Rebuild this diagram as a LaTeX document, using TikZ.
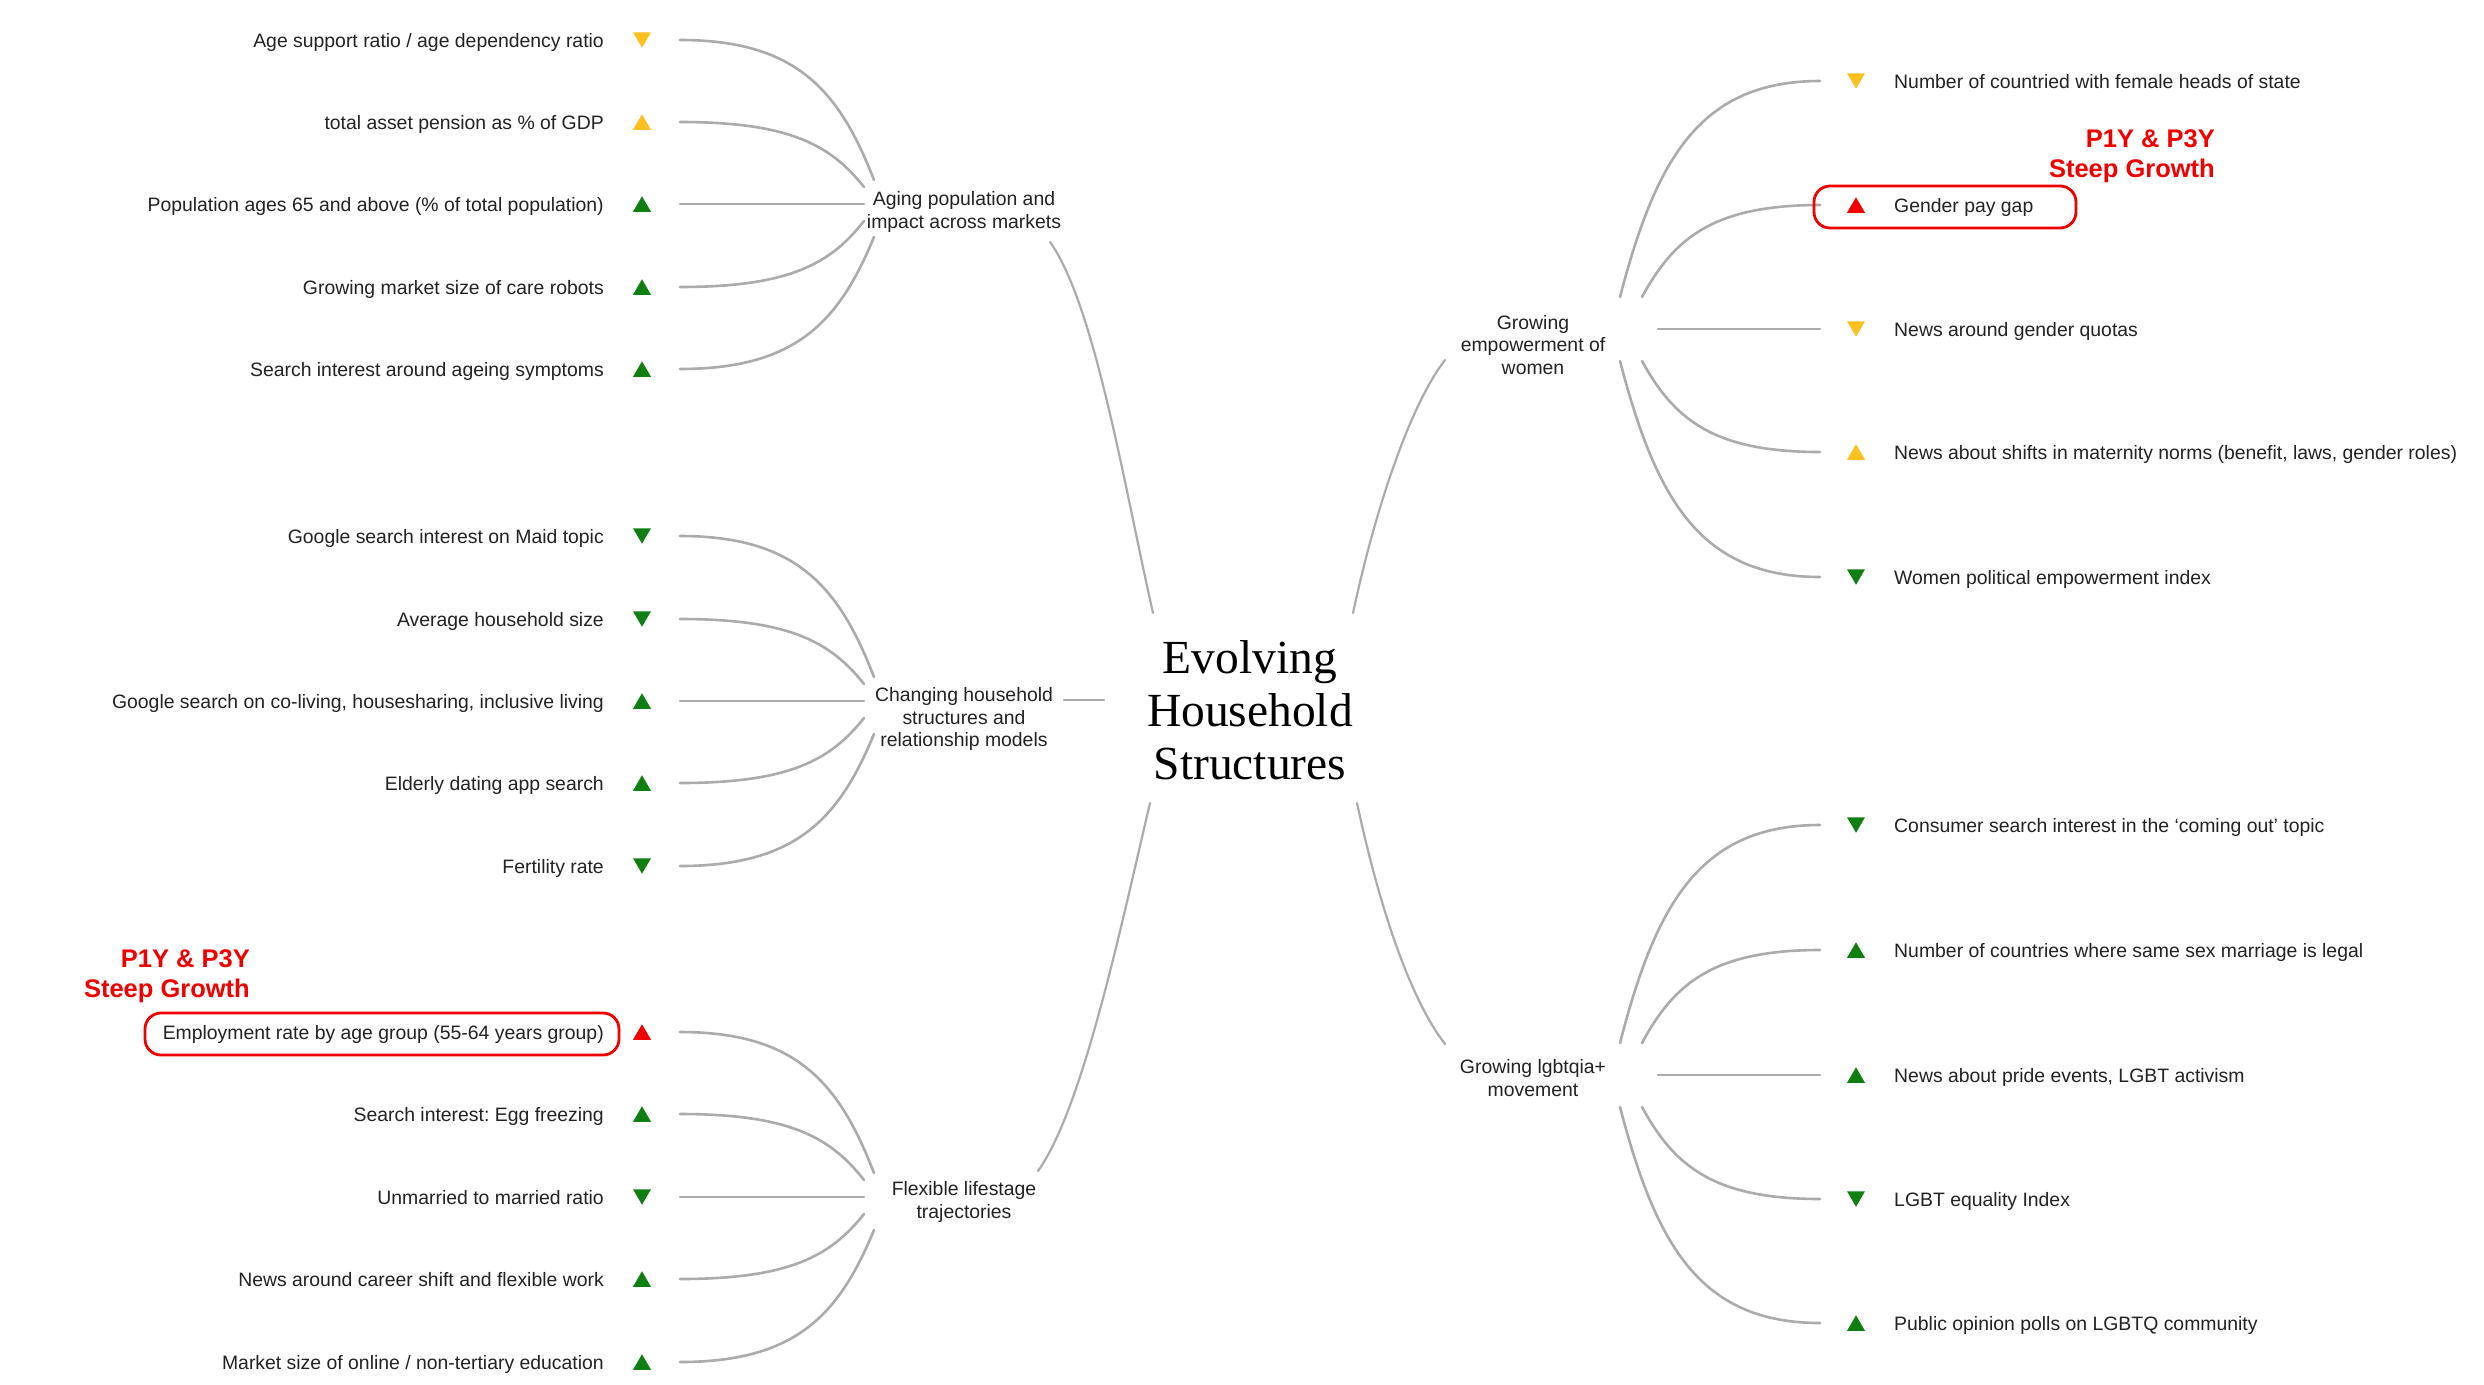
\documentclass[tikz,border=0pt]{standalone}
\usepackage{fontspec}
\setmainfont{Liberation Sans}
\newfontfamily\titlefont{Liberation Serif}
\usetikzlibrary{calc}
\frenchspacing
\definecolor{cyel}{HTML}{FDC01F}
\definecolor{cgrn}{HTML}{0F7F12}
\definecolor{cred}{HTML}{F20000}
\definecolor{cline}{HTML}{ABABAB}
\definecolor{ctext}{HTML}{222222}
\tikzset{
  leaf/.style={font=\fontsize{19.4}{22.5}\selectfont, inner sep=0pt, text=ctext},
  hub/.style={font=\fontsize{19.4}{22.5}\selectfont, align=center, inner sep=0pt, text=ctext},
  titlenode/.style={font=\titlefont\fontsize{47.5}{53}\selectfont, align=center, inner sep=0pt},
  leafline/.style={draw=cline, line width=2.6pt, line cap=round},
  mainline/.style={draw=cline, line width=2.2pt, line cap=round},
  redbox/.style={draw=cred, line width=2.8pt, rounded corners=16pt},
  redlbl/.style={font=\bfseries\fontsize{25.5}{31}\selectfont, text=cred, inner sep=0pt, align=right},
  tup/.pic={\path[pic actions] (-9,7.75) -- (9,7.75) -- (0,-7.75) -- cycle;},
  tdown/.pic={\path[pic actions] (-9,-7.75) -- (9,-7.75) -- (0,7.75) -- cycle;},
}
\newcommand\leftleaf[5]{%
  \node[leaf, anchor=base east] (#1) at (604,#2+7) {#3};
  \pic[fill=#4] at (642,#2) {#5};
  \coordinate (#1e) at (680,#2);
}
\newcommand\rightleaf[5]{%
  \node[leaf, anchor=base west] (#1) at (1894,#2+7) {#3};
  \pic[fill=#4] at (1856,#2) {#5};
  \coordinate (#1e) at (1820,#2);
}
\newcommand\leafcurve[2]{%
  \draw[leafline] let \p1=(#1), \p2=(#2) in (#1) .. controls +({0.6*(\x2-\x1)},0pt) and +({-0.18*(\x2-\x1)},{-0.64*(\y2-\y1)}) .. (#2);
}
\begin{document}
\begin{tikzpicture}[x=1pt, y=-1pt]
\fill[white] (0,0) rectangle (2484,1384);
\useasboundingbox (0,0) rectangle (2484,1384);

% ---------- centre ----------
\node[titlenode] (title) at (1250,710) {Evolving\\Household\\Structures};
\coordinate (t-tl) at (1153,613);
\coordinate (t-tr) at (1353,613);
\coordinate (t-bl) at (1150,803);
\coordinate (t-br) at (1357,803);
\coordinate (t-l)  at (1104,700);

% ---------- hubs ----------
\node[hub] (aging) at (964,212) {Aging population and\\impact across markets};
\node[hub] (chg) at (964,719) {Changing household\\structures and\\relationship models};
\node[hub] (flex) at (964,1202) {Flexible lifestage\\trajectories};
\node[hub] (women) at (1533,345) {Growing\\empowerment of\\women};
\node[hub] (lgbt) at (1533,1078) {Growing lgbtqia+\\movement};

\coordinate (ag-o) at (1050,242);
\coordinate (ch-o) at (1064,700);
\coordinate (fl-o) at (1038,1171);
\coordinate (wo-o) at (1445,360);
\coordinate (lg-o) at (1445,1044);

\draw[mainline] (ag-o) .. controls (1095,305) and (1125,490) .. (t-tl);
\draw[mainline] (ch-o) -- (t-l);
\draw[mainline] (fl-o) .. controls (1083,1108) and (1121,926) .. (t-bl);
\draw[mainline] (wo-o) .. controls (1410,405) and (1375,510) .. (t-tr);
\draw[mainline] (lg-o) .. controls (1410,999) and (1379,906) .. (t-br);

% ---------- left group 1 ----------
\leftleaf{A1}{40}{Age support ratio / age dependency ratio}{cyel}{tdown}
\leftleaf{A2}{122}{total asset pension as \% of GDP}{cyel}{tup}
\leftleaf{A3}{204}{Population ages 65 and above (\% of total population)}{cgrn}{tup}
\leftleaf{A4}{287}{Growing market size of care robots}{cgrn}{tup}
\leftleaf{A5}{369}{Search interest around ageing symptoms}{cgrn}{tup}
\coordinate (a1) at (874,180);
\coordinate (a2) at (864,187);
\coordinate (a3) at (864,204);
\coordinate (a4) at (864,221);
\coordinate (a5) at (874,237);
\leafcurve{A1e}{a1}
\leafcurve{A2e}{a2}
\draw[leafline] (A3e) -- (a3);
\leafcurve{A4e}{a4}
\leafcurve{A5e}{a5}

% ---------- left group 2 ----------
\leftleaf{B1}{536}{Google search interest on Maid topic}{cgrn}{tdown}
\leftleaf{B2}{619}{Average household size}{cgrn}{tdown}
\leftleaf{B3}{701}{Google search on co-living, housesharing, inclusive living}{cgrn}{tup}
\leftleaf{B4}{783}{Elderly dating app search}{cgrn}{tup}
\leftleaf{B5}{866}{Fertility rate}{cgrn}{tdown}
\coordinate (b1) at (874,677);
\coordinate (b2) at (864,684);
\coordinate (b3) at (864,701);
\coordinate (b4) at (864,718);
\coordinate (b5) at (874,734);
\leafcurve{B1e}{b1}
\leafcurve{B2e}{b2}
\draw[leafline] (B3e) -- (b3);
\leafcurve{B4e}{b4}
\leafcurve{B5e}{b5}

% ---------- left group 3 ----------
\leftleaf{C1}{1032}{Employment rate by age group (55-64 years group)}{cred}{tup}
\leftleaf{C2}{1114}{Search interest: Egg freezing}{cgrn}{tup}
\leftleaf{C3}{1197}{Unmarried to married ratio}{cgrn}{tdown}
\leftleaf{C4}{1279}{News around career shift and flexible work}{cgrn}{tup}
\leftleaf{C5}{1362}{Market size of online / non-tertiary education}{cgrn}{tup}
\coordinate (c1) at (874,1173);
\coordinate (c2) at (864,1180);
\coordinate (c3) at (864,1197);
\coordinate (c4) at (864,1214);
\coordinate (c5) at (874,1230);
\leafcurve{C1e}{c1}
\leafcurve{C2e}{c2}
\draw[leafline] (C3e) -- (c3);
\leafcurve{C4e}{c4}
\leafcurve{C5e}{c5}

% ---------- right group 1 ----------
\rightleaf{D1}{81}{Number of countried with female heads of state}{cyel}{tdown}
\rightleaf{D2}{205}{Gender pay gap}{cred}{tup}
\rightleaf{D3}{329}{News around gender quotas}{cyel}{tdown}
\rightleaf{D4}{452}{News about shifts in maternity norms (benefit, laws, gender roles)}{cyel}{tup}
\rightleaf{D5}{577}{Women political empowerment index}{cgrn}{tdown}
\coordinate (d1) at (1620,297);
\coordinate (d2) at (1642,297);
\coordinate (d3) at (1658,329);
\coordinate (d4) at (1642,361);
\coordinate (d5) at (1620,361);
\leafcurve{D1e}{d1}
\leafcurve{D2e}{d2}
\draw[leafline] (D3e) -- (d3);
\leafcurve{D4e}{d4}
\leafcurve{D5e}{d5}

% ---------- right group 2 ----------
\rightleaf{E1}{825}{Consumer search interest in the `coming out' topic}{cgrn}{tdown}
\rightleaf{E2}{950}{Number of countries where same sex marriage is legal}{cgrn}{tup}
\rightleaf{E3}{1075}{News about pride events, LGBT activism}{cgrn}{tup}
\rightleaf{E4}{1199}{LGBT equality Index}{cgrn}{tdown}
\rightleaf{E5}{1323}{Public opinion polls on LGBTQ community}{cgrn}{tup}
\coordinate (e1) at (1620,1043);
\coordinate (e2) at (1642,1043);
\coordinate (e3) at (1658,1075);
\coordinate (e4) at (1642,1107);
\coordinate (e5) at (1620,1107);
\leafcurve{E1e}{e1}
\leafcurve{E2e}{e2}
\draw[leafline] (E3e) -- (e3);
\leafcurve{E4e}{e4}
\leafcurve{E5e}{e5}

% ---------- highlights ----------
\draw[redbox] (145,1013) rectangle (619,1055);
\draw[redbox] (1814,186) rectangle (2076,228);
\node[redlbl, anchor=base east] (hlL1) at (250,967) {P1Y \& P3Y};
\node[redlbl, anchor=base east] (hlL2) at (250,997) {Steep Growth};
\node[redlbl, anchor=base east] (hlR1) at (2215,147) {P1Y \& P3Y};
\node[redlbl, anchor=base east] (hlR2) at (2215,177) {Steep Growth};
\end{tikzpicture}
\end{document}
